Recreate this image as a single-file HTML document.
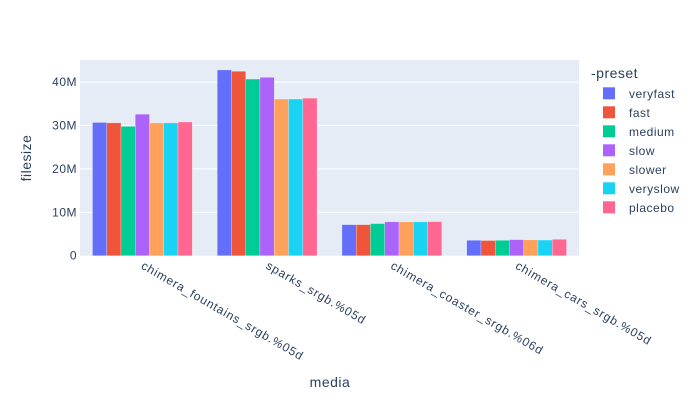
<!DOCTYPE html>
<html><head><meta charset="utf-8"><style>
body{margin:0;background:#fff;}
svg{font-family:"Liberation Sans",sans-serif;fill:#2a3f5f;}
</style></head><body>
<svg id="chart" width="700" height="400" xmlns="http://www.w3.org/2000/svg">
<rect x="80" y="60" width="499" height="195.7" fill="#e5ecf6"/>
<g id="grid"></g><g id="bars"></g><g id="axes"></g><g id="legend"></g>
<text x="330" y="387" font-size="14" text-anchor="middle" letter-spacing="0.5">media</text>
<text transform="translate(31,158) rotate(-90)" font-size="14" text-anchor="middle" letter-spacing="0.5">filesize</text>
</svg>
<script>
const categories=["chimera_fountains_srgb.%05d","sparks_srgb.%05d","chimera_coaster_srgb.%06d","chimera_cars_srgb.%05d"];
const seriesNames=["veryfast","fast","medium","slow","slower","veryslow","placebo"];
const veryfast=[30.7,42.8,7.15,3.55];
const fast=[30.6,42.5,7.15,3.5];
const medium=[29.8,40.7,7.4,3.55];
const slow=[32.6,41.1,7.8,3.7];
const slower=[30.6,36.1,7.8,3.65];
const veryslow=[30.6,36.1,7.8,3.6];
const placebo=[30.8,36.3,7.85,3.78];
const yTicks=[0,10,20,30,40];
const yTickLabels=["0","10M","20M","30M","40M"];
const colors=["#636efa","#EF553B","#00cc96","#ab63fa","#FFA15A","#19d3f3","#FF6692"];
const series=[veryfast,fast,medium,slow,slower,veryslow,placebo];
const NS="http://www.w3.org/2000/svg";
const X0=80,W=499,Y0=255.7,PX=4.34;
const y=v=>Y0-v*PX;
const band=W/categories.length;
const bw=band*0.8/seriesNames.length;
function mk(tag,attrs,parent){const e=document.createElementNS(NS,tag);for(const k in attrs)e.setAttribute(k,attrs[k]);parent.appendChild(e);return e;}
const grid=document.getElementById('grid'),bars=document.getElementById('bars'),axes=document.getElementById('axes'),legend=document.getElementById('legend');
yTicks.forEach((t,i)=>{
  if(t>0){const l=mk('line',{x1:X0,x2:X0+W,y1:y(t),y2:y(t),stroke:'#fff','stroke-width':1},grid);
  
  }
  const tx=mk('text',{x:X0-3,y:y(t)+4,'font-size':12,'text-anchor':'end','letter-spacing':0.5},axes);
  tx.textContent=yTickLabels[i];
  
  
});
categories.forEach((c,ci)=>{
  const cx=X0+band*(ci+0.5);
  series.forEach((s,si)=>{
    const bx=cx-band*0.4+si*bw;
    const r=mk('rect',{x:bx,y:y(s[ci]),width:bw,height:s[ci]*PX,fill:colors[si],stroke:'rgba(255,255,255,0.5)','stroke-width':0.5},bars);
    
    
  });
  const tx=mk('text',{transform:'translate('+(cx-2)+',268) rotate(30)','font-size':12,'letter-spacing':0.85},axes);
  tx.textContent=c;
  
  
});
const lt=mk('text',{x:591,y:78,'font-size':14,'letter-spacing':0.5},legend);
lt.textContent='-preset';


seriesNames.forEach((n,i)=>{
  const g=mk('g',{},legend);
  
  
  const cy=93.3+i*19;
  mk('rect',{x:603,y:cy-6,width:12,height:12,fill:colors[i]},g);
  const t=mk('text',{x:629,y:cy+4.5,'font-size':12,'letter-spacing':0.5},g);
  t.textContent=n;
});
</script>
</body></html>
